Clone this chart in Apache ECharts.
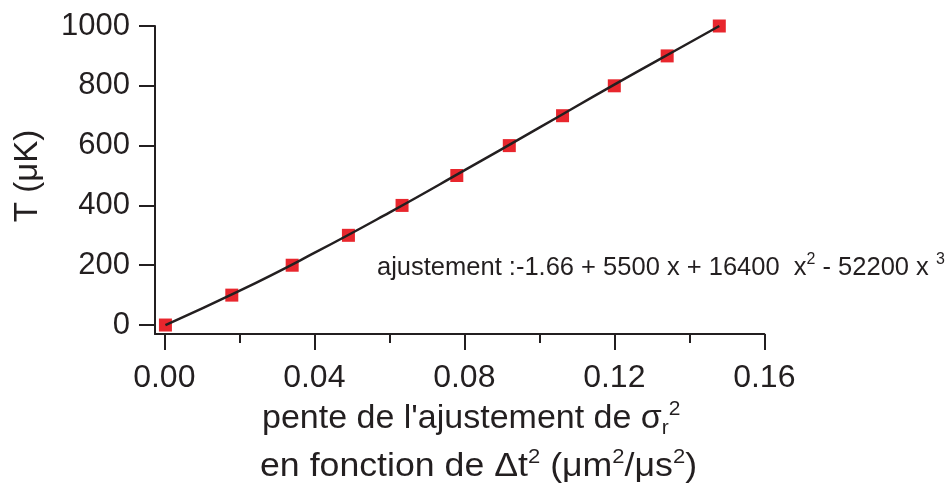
<!DOCTYPE html>
<html>
<head>
<meta charset="utf-8">
<script src="https://cdn.jsdelivr.net/npm/echarts@6/dist/echarts.min.js"></script>
<style>html,body{margin:0;padding:0;background:#fff}#c{width:947px;height:490px}</style>
</head>
<body>
<div id="c"></div>
<script>
// Measured points (x: slope of sigma_r^2 fit, y: T in microkelvin)
var pointX = [0.0003, 0.0180, 0.0341, 0.0491, 0.0634, 0.0780, 0.0920, 0.1062, 0.1200, 0.1341, 0.1480];
var pointY = [0, 100, 200, 300, 400, 500, 600, 700, 800, 900, 1000];
// Fit curve
var fitX = [0.0003, 0.02, 0.04, 0.06, 0.08, 0.10, 0.12, 0.14, 0.148];
var fitY = [0, 114, 241, 376, 517, 660, 804, 944, 1000];
// Tick labels
var xMajorTicks = [0, 0.04, 0.08, 0.12, 0.16];
var xMinorTicks = [0.02, 0.06, 0.10, 0.14];
var yTicks = [0, 200, 400, 600, 800, 1000];

var ink = '#231f20';
var chart = echarts.init(document.getElementById('c'), null, {renderer: 'canvas'});
var font = 'Liberation Sans, Arial, Helvetica, sans-serif';

var scatterData = pointX.map(function (x, i) { return [x, pointY[i]]; });
var fitData = fitX.map(function (x, i) { return [x, fitY[i]]; });

chart.setOption({
  animation: false,
  backgroundColor: '#fff',
  textStyle: {fontFamily: font},
  grid: {left: 155, right: 182.7, top: 26, bottom: 156, containLabel: false},
  xAxis: [{
    type: 'value', min: -0.00248, max: 0.16, position: 'bottom',
    axisLine: {show: true, onZero: false, lineStyle: {color: ink, width: 2}},
    axisTick: {show: true, customValues: xMajorTicks, length: 16, lineStyle: {color: ink, width: 2}},
    axisLabel: {show: true, customValues: xMajorTicks, margin: 28, fontSize: 32, color: ink, fontFamily: font,
      formatter: function (v) { return v.toFixed(2); }},
    splitLine: {show: false}
  }, {
    type: 'value', min: -0.00248, max: 0.16, position: 'bottom', offset: 0,
    axisLine: {show: false, onZero: false},
    axisTick: {show: true, customValues: xMinorTicks, length: 9, lineStyle: {color: ink, width: 2}},
    axisLabel: {show: false},
    splitLine: {show: false}
  }],
  yAxis: [{
    type: 'value', min: -30, max: 1000,
    axisLine: {show: true, onZero: false, lineStyle: {color: ink, width: 2}},
    axisTick: {show: true, customValues: yTicks, length: 16, lineStyle: {color: ink, width: 2}},
    axisLabel: {show: true, customValues: yTicks, margin: 25, fontSize: 31, color: ink, fontFamily: font,
      formatter: function (v) { return String(v); }},
    splitLine: {show: false}
  }],
  series: [{
    type: 'scatter', data: scatterData, symbol: 'rect', symbolSize: 13,
    itemStyle: {color: '#e8262d', opacity: 1}, z: 2
  }, {
    type: 'line', data: fitData, symbol: 'none', smooth: true,
    lineStyle: {color: ink, width: 2.5}, z: 3
  }],
  graphic: [{
    type: 'text', x: 28, y: 176, rotation: Math.PI / 2,
    style: {text: 'T (μK)', font: '33px ' + font, fill: ink, align: 'center', verticalAlign: 'middle'}
  }, {
    type: 'text', x: 377, y: 268,
    style: {
      text: '{a|ajustement :-1.66 + 5500 x + 16400  x}{s2|2}{a| - 52200 x }{s3|3}',
      fill: ink, align: 'left', verticalAlign: 'middle',
      rich: {
        a: {fontSize: 25.5, fontFamily: font, lineHeight: 32, fill: ink},
        s2: {fontSize: 16, fontFamily: font, lineHeight: 20, verticalAlign: 'top', fill: ink},
        s3: {fontSize: 16, fontFamily: font, lineHeight: 9, verticalAlign: 'top', fill: ink}
      }
    }
  }, {
    type: 'text', x: 262, y: 419,
    style: {
      text: "{a|pente de l'ajustement de σ}{sub|r}{sup|2}",
      fill: ink, align: 'left', verticalAlign: 'middle',
      rich: {
        a: {fontSize: 34, fontFamily: font, lineHeight: 40, fill: ink},
        sub: {fontSize: 21, fontFamily: font, lineHeight: 20, verticalAlign: 'bottom', fill: ink},
        sup: {fontSize: 21, fontFamily: font, lineHeight: 30, verticalAlign: 'top', fill: ink}
      }
    }
  }, {
    type: 'text', x: 260, y: 467, scaleX: 1.05,
    style: {
      text: '{a|en fonction de Δt}{sup|2}{a| (μm}{sup|2}{a|/μs}{sup|2}{a|)}',
      fill: ink, align: 'left', verticalAlign: 'middle',
      rich: {
        a: {fontSize: 34, fontFamily: font, lineHeight: 40, fill: ink},
        sup: {fontSize: 21, fontFamily: font, lineHeight: 30, verticalAlign: 'top', fill: ink}
      }
    }
  }]
});
</script>
</body>
</html>
